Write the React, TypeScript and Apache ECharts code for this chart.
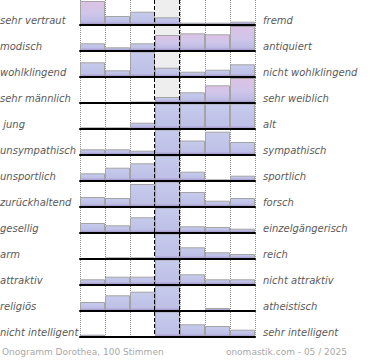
import React, { useEffect, useRef } from 'react';
import * as echarts from 'echarts';

const scalePoints = ['1', '2', '3', '4', '5', '6', '7'];

const leftLabels = [
  'sehr vertraut', 'modisch', 'wohlklingend', 'sehr männlich', ' jung', 'unsympathisch',
  'unsportlich', 'zurückhaltend', 'gesellig', 'arm', 'attraktiv', 'religiös', 'nicht intelligent',
];
const rightLabels = [
  'fremd', 'antiquiert', 'nicht wohlklingend', 'sehr weiblich', 'alt', 'sympathisch',
  'sportlich', 'forsch', 'einzelgängerisch', 'reich', 'nicht attraktiv', 'atheistisch', 'sehr intelligent',
];

const vertrautFremd = [24, 9, 13.3, 7.7, 2.3, 2.3, 3.3];
const modischAntiquiert = [7.7, 3.7, 7.7, 16, 17.7, 16.7, 25];
const wohlklingend = [14.7, 6.7, 34, 9.3, 5.3, 7.3, 12.7];
const maennlichWeiblich = [0, 0, 1.5, 6, 10.7, 17.7, 25];
const jungAlt = [1.7, 1.7, 6.3, 34, 40, 37, 32];
const sympathisch = [5.7, 5.7, 4.3, 38, 14.5, 23.3, 13];
const sportlich = [7.7, 13.3, 17.7, 33, 9.3, 1.7, 5.3];
const zurueckhaltendForsch = [10, 9, 23, 38, 15, 6.3, 9];
const geselligEinzel = [10, 7.7, 15.7, 42, 6.7, 6, 4.3];
const armReich = [0, 1.7, 1.7, 48, 11.7, 6.7, 5];
const attraktiv = [5.7, 8.3, 8.3, 44, 10.7, 5.7, 5.7];
const religioesAtheistisch = [9, 15.7, 19.3, 30, 0, 3, 0];
const intelligent = [2.3, 0, 0, 36, 12.7, 11, 7.3];

const rows = [
  vertrautFremd, modischAntiquiert, wohlklingend, maennlichWeiblich, jungAlt, sympathisch,
  sportlich, zurueckhaltendForsch, geselligEinzel, armReich, attraktiv, religioesAtheistisch, intelligent,
];

// style: bars drawn with the pinkish tint
const pinkBars = ['0-0', '1-3', '1-4', '1-5', '1-6', '3-5', '3-6'];

const ROW_H = 26;
const BAR_H = 25;
const LEFT = 80;
const PLOT_W = 175;
const Y_MAX = 25;
const COL_W = PLOT_W / 7;

function barColor(v: number, pink: boolean) {
  const h = Math.max(Math.min(v, Y_MAX), 0.5);
  const bandStart = Math.max(0, 1 - 3 / h);
  const stops = pink
    ? [
        { offset: 0, color: '#dcc2e4' },
        { offset: bandStart * 0.6, color: '#cfc6ea' },
        { offset: bandStart, color: '#bdbbe4' },
        { offset: 1, color: '#a293c7' },
      ]
    : [
        { offset: 0, color: '#c6cbeb' },
        { offset: bandStart, color: '#bec0e7' },
        { offset: 1, color: '#a293c7' },
      ];
  return new echarts.graphic.LinearGradient(0, 0, 0, 1, stops);
}

export default function App() {
  const ref = useRef<HTMLDivElement>(null);
  useEffect(() => {
    if (!ref.current) return;
    const chart = echarts.init(ref.current, undefined, { renderer: 'svg' });
    const n = rows.length;
    const bottom = (n - 1) * ROW_H + BAR_H;

    const grids: any[] = [];
    const xAxes: any[] = [];
    const yAxes: any[] = [];
    const series: any[] = [];
    rows.forEach((row, i) => {
      grids.push({ left: LEFT, top: i * ROW_H, width: PLOT_W, height: BAR_H });
      xAxes.push({
        type: 'category', gridIndex: i, data: scalePoints, z: 5,
        axisLine: { show: true, lineStyle: { color: '#000', width: 2 } },
        axisTick: { show: false }, axisLabel: { show: false }, splitLine: { show: false },
      });
      yAxes.push({ type: 'value', gridIndex: i, min: 0, max: Y_MAX, show: false });
      series.push({
        type: 'bar', xAxisIndex: i, yAxisIndex: i, barWidth: '100%', silent: true, z: 2,
        itemStyle: { borderColor: '#a4a4a4', borderWidth: 1 },
        data: row.map((v, j) => ({
          value: v,
          itemStyle: { color: barColor(v, pinkBars.includes(`${i}-${j}`)) },
        })),
      });
    });
    // overlay grid for the vertical dotted lines
    grids.push({ left: LEFT, top: 0, width: PLOT_W, height: bottom });
    xAxes.push({
      type: 'value', gridIndex: n, min: 0, max: 7, interval: 1,
      axisLine: { show: false }, axisTick: { show: false }, axisLabel: { show: false },
      splitLine: { show: true, lineStyle: { color: '#8c8c8c', width: 1, type: [1, 1] } },
    });
    yAxes.push({ type: 'value', gridIndex: n, min: 0, max: 1, show: false });

    const graphics: any[] = [
      {
        type: 'rect', z: 1, silent: true,
        shape: { x: LEFT + 3 * COL_W, y: 0, width: COL_W, height: bottom },
        style: { fill: '#eeeeee' },
      },
    ];
    [3, 4].forEach((k) => {
      const x = LEFT + k * COL_W - 0.5;
      graphics.push({
        type: 'line', z: 10, silent: true,
        shape: { x1: x, y1: 0, x2: x, y2: bottom },
        style: { stroke: '#000', lineWidth: 1, lineDash: [4, 2] },
      });
    });
    const labelStyle = {
      fontFamily: 'DejaVu Sans', fontSize: 10, fontStyle: 'italic', fill: '#5a5a5a',
      verticalAlign: 'middle',
    };
    leftLabels.forEach((t, i) => {
      graphics.push({
        type: 'text', z: 10, x: 0, y: i * ROW_H + BAR_H - 5,
        style: { ...labelStyle, text: t, align: 'left' },
      });
    });
    rightLabels.forEach((t, i) => {
      graphics.push({
        type: 'text', z: 10, x: 263, y: i * ROW_H + BAR_H - 5,
        style: { ...labelStyle, text: t, align: 'left' },
      });
    });
    graphics.push({
      type: 'text', z: 10, x: 2, y: 352,
      style: { text: 'Onogramm Dorothea, 100 Stimmen', fontFamily: 'DejaVu Sans', fontSize: 9, fill: '#a8a8a8', verticalAlign: 'middle', align: 'left' },
    });
    graphics.push({
      type: 'text', z: 10, x: 347, y: 352,
      style: { text: 'onomastik.com - 05 / 2025', fontFamily: 'DejaVu Sans', fontSize: 9, fill: '#a8a8a8', verticalAlign: 'middle', align: 'right' },
    });

    chart.setOption({
      animation: false,
      grid: grids,
      xAxis: xAxes,
      yAxis: yAxes,
      series,
      graphic: graphics,
    });
    return () => chart.dispose();
  }, []);
  return (
    <div
      ref={ref}
      style={{ position: 'absolute', left: 0, top: 0, width: 370, height: 360, background: '#fff' }}
    />
  );
}
